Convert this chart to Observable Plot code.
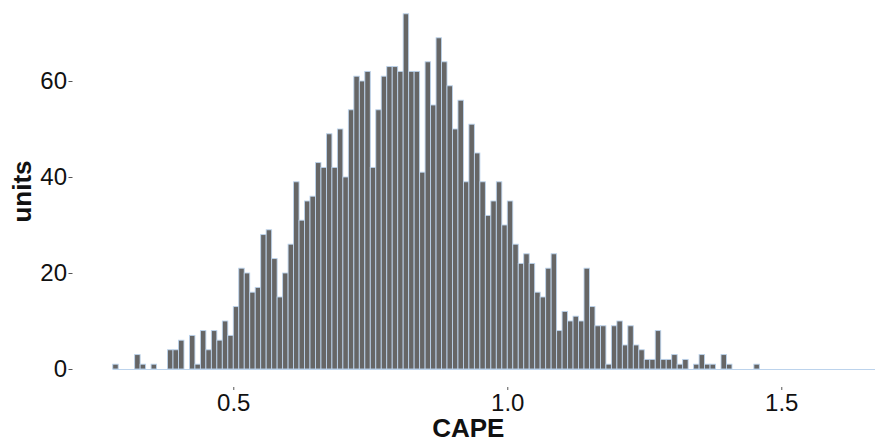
<!DOCTYPE html>
<html><head><meta charset="utf-8">
<script src="https://cdn.jsdelivr.net/npm/d3@7"></script>
<script src="https://cdn.jsdelivr.net/npm/@observablehq/plot@0.6"></script>
<style>html,body{margin:0;padding:0;background:#fff}</style>
</head><body><div id="chart"></div>
<script>
const binStart = 0.28;
const binWidth = 0.01;
const counts = [
  1, 0, 0, 0, 3, 1, 0, 1, 0, 0,
  4, 4, 6, 0, 7, 1, 8, 4, 8, 6,
  10, 7, 13, 21, 20, 16, 17, 28, 29, 23,
  15, 20, 26, 39, 31, 35, 36, 43, 42, 49,
  42, 50, 40, 54, 61, 60, 62, 42, 54, 61,
  63, 63, 62, 74, 62, 62, 41, 64, 55, 69,
  64, 59, 50, 56, 39, 51, 45, 39, 32, 35,
  39, 30, 35, 26, 22, 24, 22, 16, 15, 21,
  24, 8, 12, 10, 11, 10, 21, 13, 9, 9,
  1, 9, 10, 5, 9, 5, 4, 2, 2, 8,
  2, 2, 3, 1, 2, 0, 1, 3, 1, 1,
  0, 3, 1, 0, 0, 0, 0, 1
];
const dataMaxX = 1.671;
const xTicks = [0.5, 1.0, 1.5];
const yTicks = [0, 20, 40, 60];
const xTitle = "CAPE";
const yTitle = "units";

const bins = counts
  .map((c, i) => ({x1: binStart + i * binWidth, x2: binStart + (i + 1) * binWidth, y1: 0, y2: c}))
  .filter(d => d.y2 > 0);

const font = "'Liberation Sans', Arial, Helvetica, sans-serif";
const outline = "#bcd3ec";

const chart = Plot.plot({
  width: 875,
  height: 441,
  marginLeft: 72.5,
  marginRight: 0,
  marginTop: 9,
  marginBottom: 54,
  style: {fontFamily: font, background: "#fff", color: "#111"},
  x: {domain: [0.2066, 1.671], label: null},
  y: {domain: [-3.75, 75], label: null},
  marks: [
    Plot.ruleY([0], {x1: binStart, x2: dataMaxX, stroke: outline, strokeWidth: 1}),
    Plot.rect(bins, {x1: "x1", x2: "x2", y1: "y1", y2: "y2", fill: "#666666", stroke: outline, strokeWidth: 0.9}),
    Plot.axisX({ticks: xTicks, tickFormat: d3.format(".1f"), tickSize: 3, tickPadding: 3, fontSize: 24, stroke: "#555", fill: "#111", label: null}),
    Plot.axisY({ticks: yTicks, tickSize: 4, tickPadding: 2, fontSize: 24, stroke: "#555", fill: "#111", label: null}),
    Plot.text([yTitle], {text: d => d, frameAnchor: "left", textAnchor: "middle", lineAnchor: "middle", dx: -50, dy: -7, rotate: -90, fontSize: 26, fontWeight: "bold", fill: "#111"}),
    Plot.text([xTitle], {text: d => d, frameAnchor: "bottom", textAnchor: "middle", lineAnchor: "bottom", dy: 49, dx: -6, fontSize: 26, fontWeight: "bold", fill: "#111"})
  ]
});
document.getElementById("chart").appendChild(chart);
</script>
</body></html>
